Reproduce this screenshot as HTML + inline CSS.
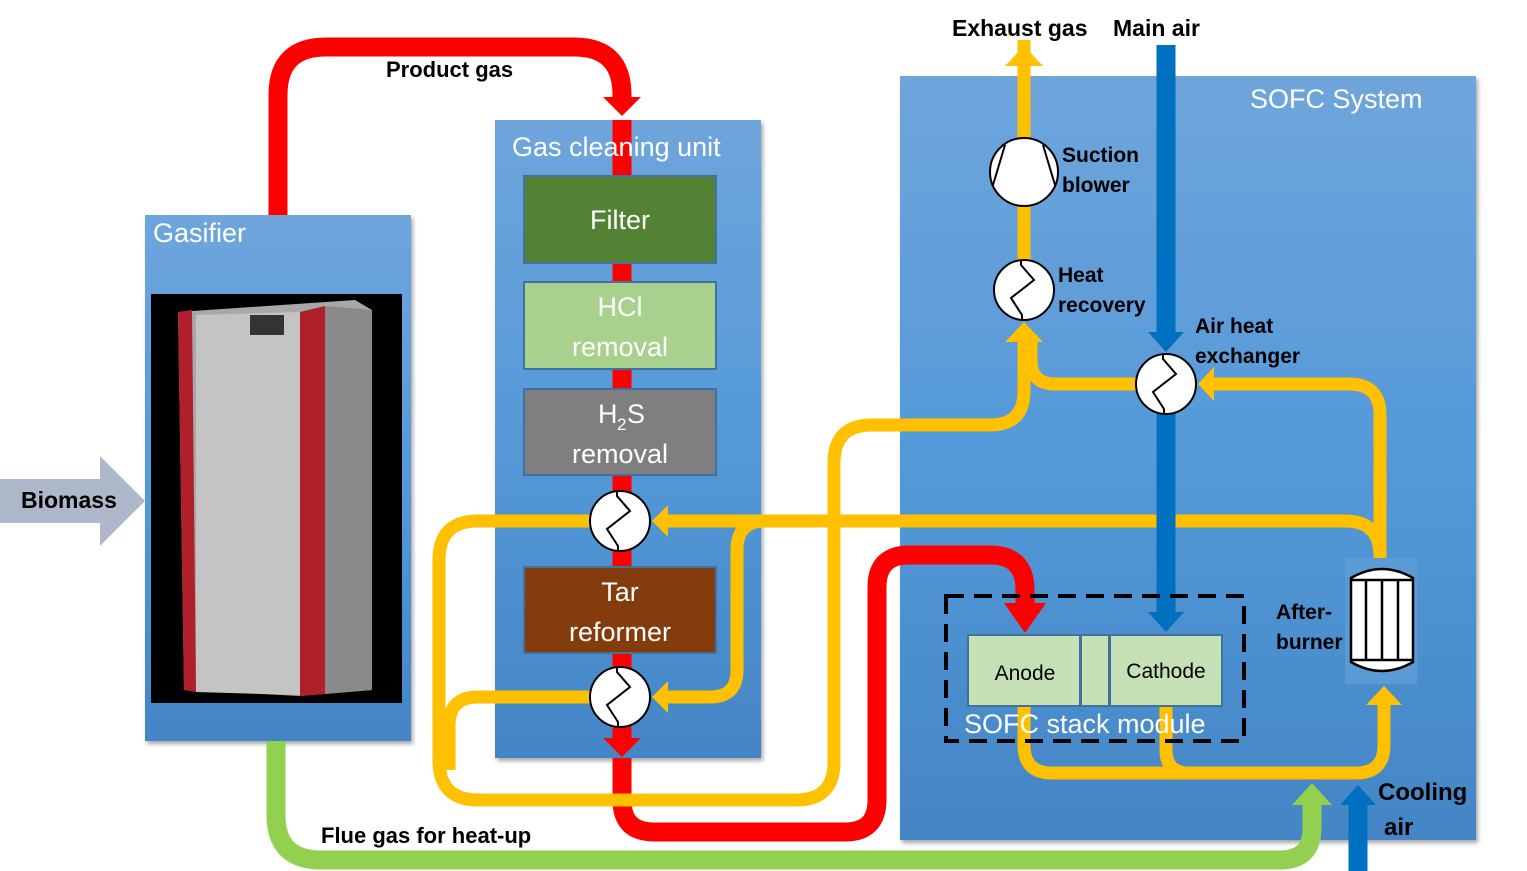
<!DOCTYPE html>
<html><head><meta charset="utf-8"><style>
html,body{margin:0;padding:0;background:#fff;}
svg{display:block;}
text{font-family:"Liberation Sans",sans-serif;}
.b{font-weight:bold;fill:#000;}
.w{fill:#fff;}
</style></head><body>
<svg width="1527" height="871" viewBox="0 0 1527 871" xmlns="http://www.w3.org/2000/svg">
<defs>
<linearGradient id="pg" x1="0" y1="0" x2="0" y2="1">
<stop offset="0" stop-color="#6fa5dc"/><stop offset="0.5" stop-color="#5499d8"/><stop offset="1" stop-color="#4485c6"/>
</linearGradient>
<filter id="sh" x="-5%" y="-5%" width="110%" height="110%"><feDropShadow dx="2" dy="3" stdDeviation="2" flood-opacity="0.35"/></filter>
<g id="hx">
<circle cx="0" cy="0" r="30" fill="#fff" stroke="#000" stroke-width="2"/>
<polyline points="-3,-30 -3,-25 10,-10 -13,8 -2,25 -2,30" fill="none" stroke="#000" stroke-width="2"/>
</g>
</defs>

<!-- Panels -->
<rect x="145" y="215" width="266" height="526" fill="url(#pg)" filter="url(#sh)"/>
<rect x="495" y="120" width="266" height="638" fill="url(#pg)" filter="url(#sh)"/>
<rect x="900" y="76" width="576" height="764" fill="url(#pg)" filter="url(#sh)"/>

<!-- Gasifier image -->
<rect x="151" y="294" width="251" height="409" fill="#000"/>
<polygon points="178,312 355,300 372,310 372,690 300,696 184,690" fill="#a8a8a8"/>
<polygon points="178,312 192,310 196,692 184,690" fill="#b0202a"/>
<polygon points="300,312 325,306 325,694 300,696" fill="#b0202a"/>
<polygon points="196,315 300,312 300,695 196,692" fill="#c4c4c4"/>
<polygon points="325,306 372,310 372,690 325,694" fill="#8a8a8a"/>
<rect x="250" y="315" width="34" height="20" fill="#333"/>

<!-- Biomass arrow -->
<polygon points="0,479 100,479 100,456 145,501 100,546 100,523 0,523" fill="#adb9ca"/>
<text x="21" y="508" class="b" font-size="23">Biomass</text>

<!-- Red product gas -->
<path d="M278,215 V95 Q278,47 326,47 H574 Q622,47 622,95 V100" fill="none" stroke="#ff0000" stroke-width="19"/>
<polygon points="603,97 641,97 622,116" fill="#ff0000"/>
<line x1="622" y1="120" x2="622" y2="740" stroke="#ff0000" stroke-width="19"/>
<polygon points="603,738 641,738 622,757" fill="#ff0000"/>
<path d="M622,758 V800 Q622,832 654,832 H845 Q877,832 877,800 V587 Q877,555 909,555 H990 Q1025,555 1025,590 V605" fill="none" stroke="#ff0000" stroke-width="19"/>
<polygon points="1004,603 1046,603 1025,633" fill="#ff0000"/>

<text x="153" y="242" class="w" font-size="27">Gasifier</text>
<text x="512" y="156" class="w" font-size="27">Gas cleaning unit</text>
<text x="1250" y="108" class="w" font-size="27">SOFC System</text>

<!-- Boxes -->
<rect x="524" y="176" width="192" height="87" fill="#548235" stroke="#41719c" stroke-width="2"/>
<text x="620" y="229" class="w" font-size="27" text-anchor="middle">Filter</text>
<rect x="524" y="282" width="192" height="87" fill="#a9d18e" stroke="#41719c" stroke-width="2"/>
<text x="620" y="316" class="w" font-size="27" text-anchor="middle">HCl</text>
<text x="620" y="356" class="w" font-size="27" text-anchor="middle">removal</text>
<rect x="524" y="389" width="192" height="86" fill="#7f7f7f" stroke="#41719c" stroke-width="2"/>
<text x="598" y="423" class="w" font-size="27">H</text><text x="617" y="430" class="w" font-size="17">2</text><text x="627" y="423" class="w" font-size="27">S</text>
<text x="620" y="463" class="w" font-size="27" text-anchor="middle">removal</text>
<rect x="524" y="567" width="192" height="86" fill="#843c0c" stroke="#41719c" stroke-width="2"/>
<text x="620" y="601" class="w" font-size="27" text-anchor="middle">Tar</text>
<text x="620" y="641" class="w" font-size="27" text-anchor="middle">reformer</text>

<!-- Yellow pipes -->
<g fill="none" stroke="#ffc000" stroke-width="13">
<path d="M590,521 H478 Q439,521 439,560 V760 Q439,800 478,800 H796 Q834,800 834,762 V463 Q834,425 872,425 H990 Q1024,425 1024,391 V335"/>
<path d="M590,697 H478 Q449,697 449,726 V770"/>
<path d="M1136,384 H1055 Q1031,384 1031,360 V335"/>
<path d="M1024,138 V260"/>
<path d="M1024,40 V138"/>
<path d="M665,521 H1345 Q1380,521 1380,556 V560"/>
<path d="M1380,560 V415 Q1380,384 1349,384 H1210"/>
<path d="M765,521 Q737,521 737,550 V670 Q737,697 710,697 H668"/>
<path d="M1024,680 V745 Q1024,773 1052,773 H1356 Q1384,773 1384,745 V705"/>
<path d="M1166,680 V750 Q1166,773 1189,773"/>
</g>
<polygon points="1024,46 1005,66 1043,66" fill="#ffc000"/>
<polygon points="1024,322 1005,342 1043,342" fill="#ffc000"/>
<polygon points="1198,384 1214,367 1214,401" fill="#ffc000"/>
<polygon points="652,521 668,505 668,537" fill="#ffc000"/>
<polygon points="652,697 668,681 668,713" fill="#ffc000"/>
<polygon points="1384,686 1366,705 1402,705" fill="#ffc000"/>

<!-- Blue -->
<line x1="1166" y1="45" x2="1166" y2="335" stroke="#0070c0" stroke-width="19"/>
<polygon points="1148,332 1184,332 1166,352" fill="#0070c0"/>
<line x1="1166" y1="412" x2="1166" y2="612" stroke="#0070c0" stroke-width="19"/>
<polygon points="1148,612 1184,612 1166,632" fill="#0070c0"/>
<line x1="1358" y1="871" x2="1358" y2="802" stroke="#0070c0" stroke-width="19"/>
<polygon points="1340,805 1376,805 1358,785" fill="#0070c0"/>

<!-- Green -->
<path d="M276,741 V815 Q276,860 321,860 H1280 Q1312,860 1312,828 V802" fill="none" stroke="#92d050" stroke-width="19"/>
<polygon points="1292,805 1332,805 1312,783" fill="#92d050"/>

<!-- HX and blower -->
<use href="#hx" x="620" y="521"/>
<use href="#hx" x="620" y="697"/>
<use href="#hx" x="1024" y="290"/>
<use href="#hx" x="1166" y="384"/>
<circle cx="1024" cy="172" r="34" fill="#fff" stroke="#000" stroke-width="2"/>
<line x1="1005" y1="145" x2="993" y2="185" stroke="#000" stroke-width="2"/>
<line x1="1043" y1="145" x2="1055" y2="185" stroke="#000" stroke-width="2"/>

<!-- Stack module -->
<rect x="946" y="596" width="298" height="145" fill="none" stroke="#000" stroke-width="4" stroke-dasharray="18,10"/>
<rect x="968" y="635" width="112" height="71" fill="#c5e0b4" stroke="#41719c" stroke-width="2"/>
<rect x="1081" y="635" width="28" height="71" fill="#c5e0b4" stroke="#41719c" stroke-width="2"/>
<rect x="1110" y="635" width="112" height="71" fill="#c5e0b4" stroke="#41719c" stroke-width="2"/>
<text x="1025" y="680" font-size="21" text-anchor="middle" fill="#000">Anode</text>
<text x="1166" y="678" font-size="21" text-anchor="middle" fill="#000">Cathode</text>
<text x="964" y="733" class="w" font-size="27">SOFC stack module</text>

<!-- Afterburner -->
<rect x="1345" y="558" width="72" height="126" fill="#5b9bd5"/>
<path d="M1351,578 Q1382,560 1413,578 V662 Q1382,680 1351,662 Z" fill="#fff" stroke="#000" stroke-width="2.5"/>
<line x1="1351" y1="580" x2="1413" y2="580" stroke="#000" stroke-width="2.5"/>
<line x1="1351" y1="660" x2="1413" y2="660" stroke="#000" stroke-width="2.5"/>
<line x1="1366" y1="580" x2="1366" y2="660" stroke="#000" stroke-width="2.5"/>
<line x1="1382" y1="580" x2="1382" y2="660" stroke="#000" stroke-width="2.5"/>
<line x1="1398" y1="580" x2="1398" y2="660" stroke="#000" stroke-width="2.5"/>

<!-- Labels -->
<text x="386" y="77" class="b" font-size="22">Product gas</text>
<text x="952" y="36" class="b" font-size="23">Exhaust gas</text>
<text x="1113" y="36" class="b" font-size="23">Main air</text>
<text x="1062" y="162" class="b" font-size="21">Suction</text>
<text x="1062" y="192" class="b" font-size="21">blower</text>
<text x="1058" y="282" class="b" font-size="21">Heat</text>
<text x="1058" y="312" class="b" font-size="21">recovery</text>
<text x="1195" y="333" class="b" font-size="21">Air heat</text>
<text x="1195" y="363" class="b" font-size="21">exchanger</text>
<text x="1276" y="619" class="b" font-size="21">After-</text>
<text x="1276" y="649" class="b" font-size="21">burner</text>
<text x="1378" y="800" class="b" font-size="24">Cooling</text>
<text x="1384" y="835" class="b" font-size="24">air</text>
<text x="321" y="843" class="b" font-size="22">Flue gas for heat-up</text>
</svg>
</body></html>
